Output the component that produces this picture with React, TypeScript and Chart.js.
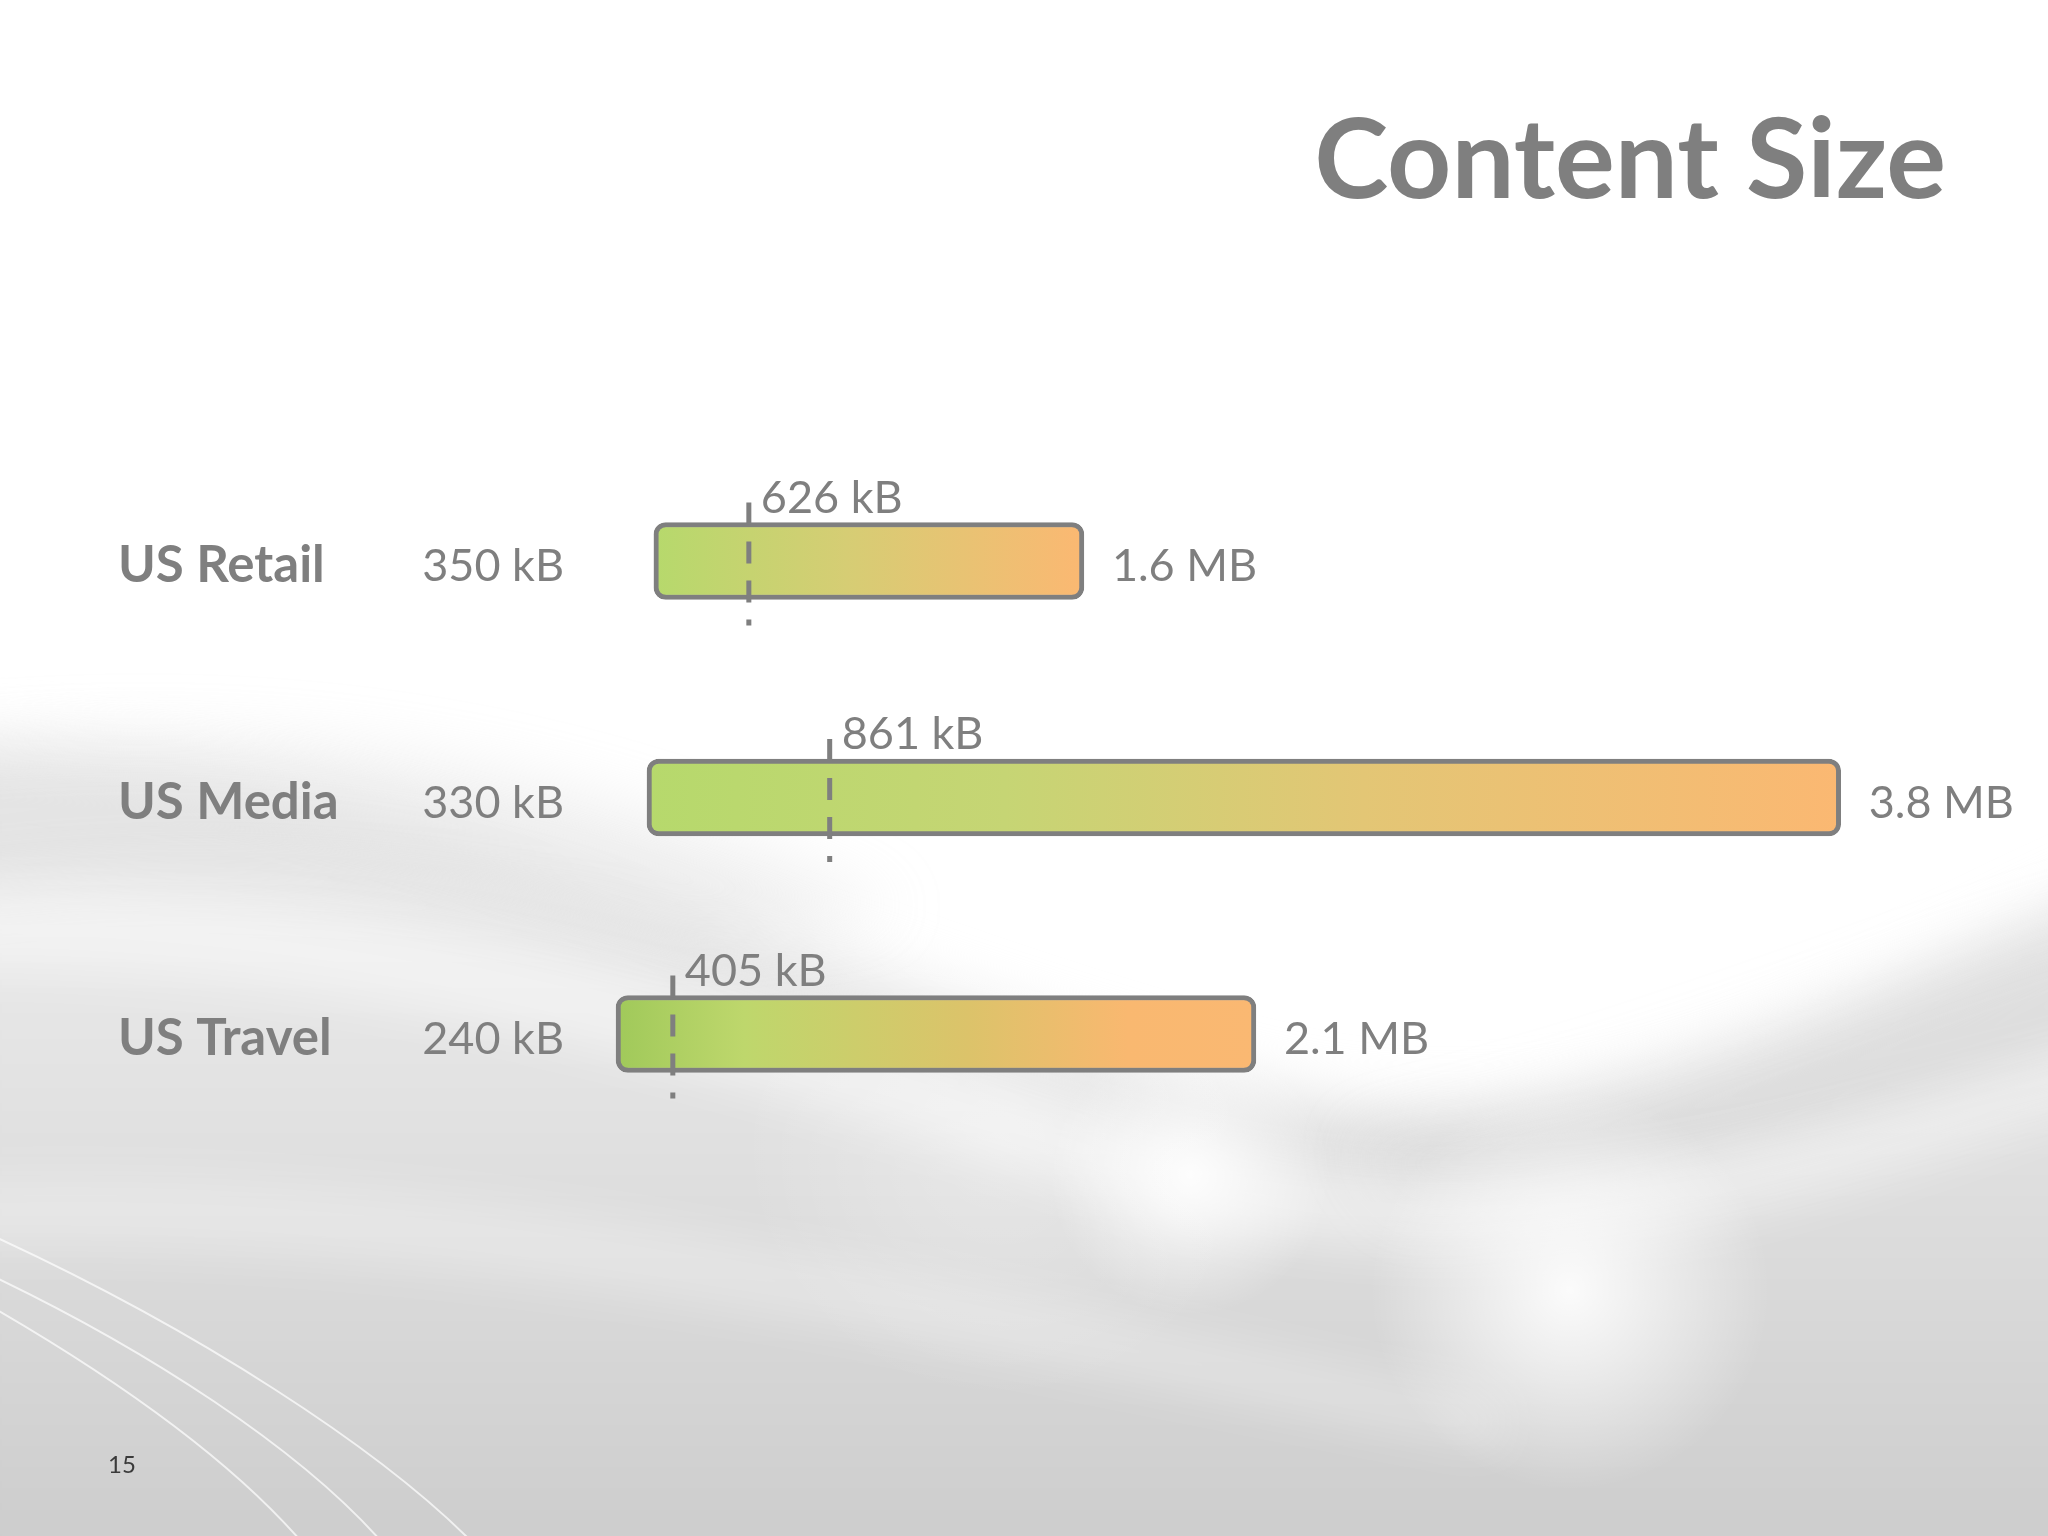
import React, { useEffect, useRef } from "react";
import { Chart, registerables } from "chart.js";

Chart.register(...registerables);

// ---------- data ----------
const CATEGORIES = ["US Retail", "US Media", "US Travel"];
const MIN_KB = [350, 330, 240];
const MAX_KB = [1600, 3800, 2100];
const MEDIAN_KB = [626, 861, 405];
const MIN_LABELS = ["350 kB", "330 kB", "240 kB"];
const MAX_LABELS = ["1.6 MB", "3.8 MB", "2.1 MB"];
const MEDIAN_LABELS = ["626 kB", "861 kB", "405 kB"];
const TITLE = "Content Size";
const PAGE_NUMBER = "15";
const X_MAX = 4000;

// ---------- style ----------
const W = 2048;
const H = 1536;
const FONT = "Lato, 'Open Sans', sans-serif";
const TEXT_GRAY = "#7f7f7f";
const BORDER_GRAY = "#7f7f7f";
const GRADIENT_STOPS: [number, string][][] = [
  [[0, "#b6d96c"], [0.45, "#d6cd74"], [1, "#fbb872"]],
  [[0, "#b6d96c"], [0.3, "#c6d574"], [0.6, "#e3c675"], [1, "#fbb872"]],
  [[0, "#a0c95a"], [0.2, "#bed76c"], [0.55, "#dcc36a"], [0.8, "#f9b870"], [1, "#fab872"]],
];

function drawBackground(ctx: CanvasRenderingContext2D, w: number, h: number) {
  ctx.save();
  ctx.fillStyle = "#ffffff";
  ctx.fillRect(0, 0, w, h);

  // main gray region
  ctx.filter = "blur(30px)";
  const g = ctx.createLinearGradient(0, 740, 0, h);
  g.addColorStop(0, "#f0f0f0");
  g.addColorStop(0.45, "#e2e2e2");
  g.addColorStop(1, "#cdcdcd");
  ctx.fillStyle = g;
  ctx.beginPath();
  ctx.moveTo(-80, 745);
  ctx.bezierCurveTo(450, 760, 850, 1000, 1300, 1100);
  ctx.bezierCurveTo(1650, 1160, 1850, 1000, 2130, 880);
  ctx.lineTo(2130, h + 80);
  ctx.lineTo(-80, h + 80);
  ctx.closePath();
  ctx.fill();

  // upper-left soft gray swoosh
  ctx.fillStyle = "rgba(205,205,205,0.28)";
  ctx.beginPath();
  ctx.moveTo(-80, 750);
  ctx.bezierCurveTo(300, 710, 600, 770, 900, 910);
  ctx.lineTo(700, 940);
  ctx.bezierCurveTo(450, 870, 200, 850, -80, 890);
  ctx.closePath();
  ctx.fill();

  // right gray swoosh
  ctx.fillStyle = "rgba(200,200,200,0.22)";
  ctx.beginPath();
  ctx.moveTo(1350, 1140);
  ctx.bezierCurveTo(1650, 1080, 1850, 980, 2130, 900);
  ctx.lineTo(2130, 1060);
  ctx.bezierCurveTo(1850, 1130, 1650, 1190, 1400, 1210);
  ctx.closePath();
  ctx.fill();

  // white streaks
  ctx.filter = "blur(24px)";
  ctx.fillStyle = "rgba(255,255,255,0.45)";
  ctx.beginPath();
  ctx.moveTo(-80, 890);
  ctx.bezierCurveTo(400, 870, 800, 1020, 1150, 1130);
  ctx.bezierCurveTo(1500, 1230, 1800, 1140, 2130, 1030);
  ctx.lineTo(2130, 1090);
  ctx.bezierCurveTo(1800, 1210, 1500, 1310, 1150, 1210);
  ctx.bezierCurveTo(800, 1100, 400, 960, -80, 970);
  ctx.closePath();
  ctx.fill();

  ctx.fillStyle = "rgba(255,255,255,0.3)";
  ctx.beginPath();
  ctx.moveTo(-80, 1180);
  ctx.bezierCurveTo(500, 1150, 1000, 1300, 1500, 1400);
  ctx.lineTo(1500, 1450);
  ctx.bezierCurveTo(1000, 1360, 500, 1230, -80, 1250);
  ctx.closePath();
  ctx.fill();

  // glows
  ctx.filter = "none";
  const glow = (x: number, y: number, r: number, a: number) => {
    const rg = ctx.createRadialGradient(x, y, 0, x, y, r);
    rg.addColorStop(0, `rgba(255,255,255,${a})`);
    rg.addColorStop(1, "rgba(255,255,255,0)");
    ctx.fillStyle = rg;
    ctx.fillRect(x - r, y - r, 2 * r, 2 * r);
  };
  glow(1190, 1175, 140, 0.9);
  glow(1570, 1290, 200, 0.9);
  glow(1000, 1140, 260, 0.3);

  // thin light lines bottom-left
  ctx.strokeStyle = "rgba(255,255,255,0.7)";
  ctx.lineWidth = 2;
  const lines = [
    [-20, 1230, 200, 1330, 380, 1450, 470, 1540],
    [-20, 1270, 150, 1350, 300, 1450, 380, 1540],
    [-20, 1300, 120, 1380, 230, 1460, 300, 1540],
  ];
  for (const l of lines) {
    ctx.beginPath();
    ctx.moveTo(l[0], l[1]);
    ctx.bezierCurveTo(l[2], l[3], l[4], l[5], l[6], l[7]);
    ctx.stroke();
  }
  ctx.restore();
}

const annotationPlugin = {
  id: "annotations",
  beforeDraw(chart: any) {
    drawBackground(chart.ctx, chart.width, chart.height);
  },
  afterDatasetsDraw(chart: any) {
    const ctx: CanvasRenderingContext2D = chart.ctx;
    const xs = chart.scales.x;
    const meta = chart.getDatasetMeta(0);
    ctx.save();
    ctx.fillStyle = TEXT_GRAY;
    ctx.textBaseline = "alphabetic";

    CATEGORIES.forEach((cat, i) => {
      const el = meta.data[i];
      const yc = el.y;
      const half = el.height / 2;
      const xEnd = xs.getPixelForValue(MAX_KB[i]);
      const xMed = xs.getPixelForValue(MEDIAN_KB[i]);

      // category name
      ctx.font = `bold 51px ${FONT}`;
      ctx.textAlign = "left";
      ctx.fillText(cat, 118, yc + 21);

      // min label
      ctx.font = `45px ${FONT}`;
      ctx.textAlign = "right";
      ctx.fillText(MIN_LABELS[i], 564, yc + 20);

      // max label
      ctx.textAlign = "left";
      ctx.fillText(MAX_LABELS[i], xEnd + 28, yc + 20);

      // median marker
      ctx.save();
      ctx.strokeStyle = BORDER_GRAY;
      ctx.lineWidth = 5;
      ctx.setLineDash([22, 17]);
      ctx.beginPath();
      ctx.moveTo(xMed, yc - half - 20);
      ctx.lineTo(xMed, yc + half + 26);
      ctx.stroke();
      ctx.restore();

      ctx.fillText(MEDIAN_LABELS[i], xMed + 12, yc - half - 10);
    });

    // title
    ctx.font = `bold 112px ${FONT}`;
    ctx.textAlign = "right";
    ctx.fillText(TITLE, 1946, 198);

    // page number
    ctx.font = `24px ${FONT}`;
    ctx.textAlign = "left";
    ctx.fillStyle = "#3a3a3a";
    ctx.fillText(PAGE_NUMBER, 108, 1473);
    ctx.restore();
  },
};

export default function App() {
  const canvasRef = useRef<HTMLCanvasElement | null>(null);

  useEffect(() => {
    document.body.style.margin = "0";
    const canvas = canvasRef.current;
    if (!canvas) return;
    const chart = new Chart(canvas, {
      type: "bar",
      data: {
        labels: CATEGORIES,
        datasets: [
          {
            data: CATEGORIES.map((_, i) => [MIN_KB[i], MAX_KB[i]]) as any,
            backgroundColor: (c: any) => {
              const chartObj = c.chart;
              const xs = chartObj.scales?.x;
              const i = c.dataIndex;
              if (!xs || !chartObj.chartArea || i === undefined) return "#cccccc";
              const x0 = xs.getPixelForValue(MIN_KB[i]);
              const x1 = xs.getPixelForValue(MAX_KB[i]);
              const g = chartObj.ctx.createLinearGradient(x0, 0, x1, 0);
              for (const [o, col] of GRADIENT_STOPS[i]) g.addColorStop(o, col);
              return g;
            },
            borderColor: BORDER_GRAY,
            borderWidth: 5,
            borderRadius: 12,
            borderSkipped: false,
            barThickness: 77,
          },
        ],
      },
      plugins: [annotationPlugin],
      options: {
        responsive: false,
        animation: false,
        devicePixelRatio: 1,
        indexAxis: "y",
        layout: {
          padding: { left: 533.5, right: W - (533.5 + 0.344 * X_MAX), top: 442.75, bottom: H - 1152.25 },
        },
        plugins: {
          legend: { display: false },
          tooltip: { enabled: false },
          title: { display: false },
        },
        scales: {
          x: { type: "linear", min: 0, max: X_MAX, display: false },
          y: { display: false },
        },
      },
    });
    return () => chart.destroy();
  }, []);

  return (
    <div style={{ position: "absolute", left: 0, top: 0, width: W, height: H }}>
      <canvas ref={canvasRef} width={W} height={H} style={{ display: "block", width: W, height: H }} />
    </div>
  );
}
